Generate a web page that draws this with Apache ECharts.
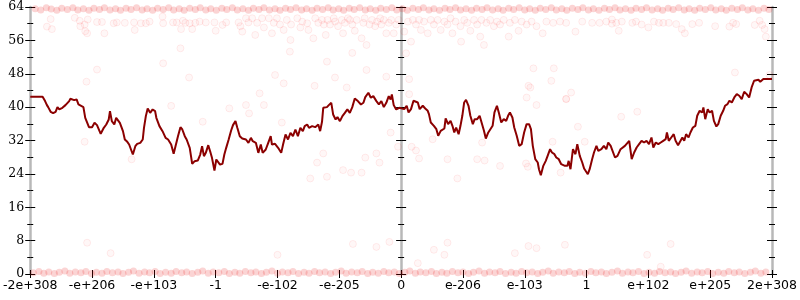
<!DOCTYPE html>
<html>
<head>
<meta charset="utf-8">
<script src="https://cdn.jsdelivr.net/npm/echarts@6/dist/echarts.min.js"></script>
<style>html,body{margin:0;padding:0;background:#fff}#c{width:800px;height:300px}</style>
</head>
<body>
<div id="c"></div>
<script>
// x axis: 12 equal steps of the float ordering, labelled by these ticks
const xTickLabels = ['-2e+308','-e+206','-e+103','-1','-e-102','-e-205','0','e-206','e-103','1','e+102','e+205','2e+308'];
const yTicks = [0, 8, 16, 24, 32, 40, 48, 56, 64];

// rolling trend line [x, y]
const trendPoints = [
[-6.0,42.48],[-5.80,42.48],[-5.76,41.44],[-5.73,40.48],[-5.71,40.0],[-5.67,38.88],[-5.63,38.56],[-5.59,38.88],[-5.56,40.0],[-5.53,39.44],
[-5.48,39.84],[-5.43,40.48],[-5.37,41.44],[-5.35,42.0],[-5.29,41.68],[-5.25,41.84],[-5.22,40.64],[-5.19,40.48],[-5.14,40.0],[-5.11,37.44],
[-5.05,35.2],[-5.00,35.2],[-4.96,36.24],[-4.92,35.68],[-4.89,35.84],[-4.86,33.6],[-4.81,35.04],[-4.77,35.84],[-4.73,37.04],[-4.71,39.04],
[-4.68,36.64],[-4.64,35.84],[-4.61,37.44],[-4.58,37.84],[-4.55,36.24],[-4.50,34.24],[-4.47,32.24],[-4.43,31.68],[-4.40,31.04],[-4.34,28.64],
[-4.30,30.64],[-4.27,31.2],[-4.22,31.44],[-4.18,32.24],[-4.16,35.04],[-4.13,37.84],[-4.10,39.68],[-4.06,38.64],[-4.02,39.44],[-3.98,39.04],
[-3.96,37.44],[-3.91,35.44],[-3.86,34.24],[-3.81,32.64],[-3.77,32.24],[-3.72,31.04],[-3.68,28.8],[-3.65,30.64],[-3.61,33.04],[-3.57,35.2],
[-3.54,34.64],[-3.50,33.04],[-3.47,32.24],[-3.42,30.24],[-3.38,26.4],[-3.34,27.04],[-3.29,27.2],[-3.25,28.64],[-3.22,30.64],[-3.19,28.24],
[-3.16,29.04],[-3.12,30.88],[-3.09,29.44],[-3.06,27.84],[-3.02,24.8],[-2.99,27.44],[-2.96,27.2],[-2.93,26.24],[-2.89,26.4],[-2.86,28.64],
[-2.83,30.24],[-2.79,32.24],[-2.75,34.4],[-2.72,35.68],[-2.68,36.64],[-2.65,35.04],[-2.61,33.04],[-2.57,32.48],[-2.51,32.24],[-2.47,31.44],
[-2.43,32.64],[-2.40,31.84],[-2.35,31.44],[-2.31,29.04],[-2.27,31.04],[-2.24,29.04],[-2.19,29.84],[-2.15,31.44],[-2.11,33.04],[-2.09,31.04],
[-2.04,31.2],[-1.99,30.24],[-1.94,29.04],[-1.91,31.04],[-1.87,33.44],[-1.83,32.24],[-1.79,33.84],[-1.75,33.04],[-1.71,34.64],[-1.67,33.04],
[-1.63,35.04],[-1.59,34.24],[-1.56,35.44],[-1.52,35.84],[-1.49,35.04],[-1.44,35.44],[-1.39,35.2],[-1.34,35.84],[-1.31,34.24],[-1.28,36.48],
[-1.26,39.84],[-1.20,40.0],[-1.17,40.48],[-1.13,41.04],[-1.10,38.24],[-1.06,37.04],[-1.03,37.6],[-0.99,36.64],[-0.95,37.84],[-0.91,38.64],
[-0.87,39.44],[-0.83,38.64],[-0.79,40.0],[-0.75,42.08],[-0.70,41.44],[-0.65,40.64],[-0.61,41.04],[-0.58,42.4],[-0.53,43.44],[-0.49,42.24],
[-0.45,42.64],[-0.40,41.44],[-0.36,40.64],[-0.32,41.44],[-0.28,40.0],[-0.24,41.04],[-0.20,42.64],[-0.17,41.84],[-0.15,43.04],[-0.12,40.48],
[-0.08,39.44],[-0.03,39.84],[0.00,39.92],[0.05,39.52],[0.09,40.32],[0.12,38.72],[0.16,39.52],[0.20,41.52],[0.23,41.92],[0.27,41.12],
[0.30,39.52],[0.35,40.32],[0.39,39.68],[0.43,39.12],[0.45,38.32],[0.48,36.32],[0.53,35.52],[0.57,34.72],[0.60,33.12],[0.64,34.32],
[0.70,34.88],[0.72,37.28],[0.76,35.92],[0.80,36.72],[0.83,35.52],[0.86,33.92],[0.89,35.12],[0.93,33.52],[0.96,35.52],[0.99,37.92],
[1.02,41.12],[1.05,41.76],[1.09,40.32],[1.12,37.92],[1.16,35.92],[1.19,37.12],[1.23,37.12],[1.27,37.92],[1.30,37.52],[1.34,34.32],
[1.37,32.48],[1.41,33.92],[1.44,34.32],[1.48,35.52],[1.51,38.72],[1.55,40.32],[1.58,38.72],[1.62,36.32],[1.66,37.12],[1.70,36.72],
[1.73,37.92],[1.76,38.72],[1.80,37.52],[1.83,35.12],[1.87,33.12],[1.91,30.72],[1.95,31.12],[1.99,33.92],[2.03,35.92],[2.07,35.92],
[2.10,34.72],[2.13,30.72],[2.17,27.52],[2.21,26.72],[2.23,25.12],[2.26,23.68],[2.30,25.92],[2.34,27.12],[2.37,28.32],[2.41,29.92],
[2.44,29.12],[2.48,28.72],[2.51,27.92],[2.55,27.52],[2.59,26.32],[2.65,25.92],[2.69,25.92],[2.71,27.12],[2.74,25.12],[2.78,29.92],
[2.82,28.72],[2.85,31.12],[2.89,28.32],[2.93,26.72],[2.96,25.28],[2.99,25.52],[3.02,23.92],[3.05,25.12],[3.09,27.52],[3.12,29.12],
[3.16,30.72],[3.19,29.52],[3.24,29.92],[3.28,30.72],[3.32,29.92],[3.35,31.52],[3.39,30.72],[3.42,31.12],[3.46,27.92],[3.50,28.32],
[3.55,29.92],[3.58,29.52],[3.62,30.72],[3.65,30.72],[3.69,31.92],[3.73,27.52],[3.77,29.12],[3.81,30.32],[3.85,31.12],[3.89,31.92],
[3.93,31.52],[3.97,31.92],[4.01,31.12],[4.05,32.72],[4.08,30.32],[4.12,31.52],[4.16,31.12],[4.20,31.52],[4.24,31.92],[4.28,32.32],
[4.30,33.92],[4.33,31.92],[4.37,32.72],[4.41,33.52],[4.44,31.92],[4.48,30.88],[4.52,31.92],[4.55,32.72],[4.58,31.92],[4.61,33.52],
[4.65,32.72],[4.68,33.92],[4.72,35.12],[4.76,35.52],[4.79,37.92],[4.83,39.12],[4.87,38.72],[4.89,39.92],[4.92,37.12],[4.96,39.52],
[4.99,38.72],[5.03,39.12],[5.06,36.72],[5.10,35.36],[5.13,35.92],[5.17,37.92],[5.21,39.12],[5.24,40.32],[5.28,40.72],[5.31,41.52],
[5.35,41.12],[5.39,42.32],[5.43,43.12],[5.47,42.72],[5.51,41.92],[5.55,43.68],[5.59,43.12],[5.63,42.32],[5.67,44.72],[5.71,46.32],
[5.74,45.92],[5.78,46.56],[5.81,46.08],[5.86,46.72],[6.0,46.72]
];

// raw samples piled at the bottom (value 0)
const bottomSamples = [
[-5.95,0.3],[-5.86,0.6],[-5.78,0.2],[-5.7,0.5],[-5.61,0.1],[-5.53,0.4],[-5.44,0.7],[-5.36,0.2],[-5.27,0.5],[-5.18,0.3],[-5.1,0.6],[-5.01,0.1],
[-4.93,0.4],[-4.84,0.2],[-4.76,0.6],[-4.67,0.3],[-4.58,0.5],[-4.5,0.1],[-4.41,0.4],[-4.33,0.7],[-4.24,0.2],[-4.15,0.5],[-4.07,0.3],[-3.98,0.6],
[-3.9,0.1],[-3.81,0.4],[-3.72,0.2],[-3.64,0.6],[-3.55,0.3],[-3.47,0.5],[-3.38,0.1],[-3.29,0.4],[-3.21,0.7],[-3.12,0.2],[-3.04,0.5],[-2.95,0.3],
[-2.86,0.6],[-2.78,0.1],[-2.69,0.4],[-2.61,0.2],[-2.52,0.6],[-2.43,0.3],[-2.35,0.5],[-2.26,0.1],[-2.18,0.4],[-2.09,0.7],[-2.0,0.2],[-1.92,0.5],
[-1.83,0.3],[-1.75,0.6],[-1.66,0.1],[-1.57,0.4],[-1.49,0.2],[-1.4,0.6],[-1.32,0.3],[-1.23,0.5],[-1.14,0.1],[-1.06,0.4],[-0.97,0.7],[-0.89,0.2],
[-0.8,0.5],[-0.71,0.3],[-0.63,0.6],[-0.54,0.1],[-0.46,0.4],[-0.37,0.2],[-0.28,0.6],[-0.2,0.3],[-0.11,0.5],[-0.03,0.1],[0.06,0.4],[0.14,0.7],
[0.23,0.2],[0.31,0.5],[0.4,0.3],[0.49,0.6],[0.57,0.1],[0.66,0.4],[0.74,0.2],[0.83,0.6],[0.92,0.3],[1.0,0.5],[1.09,0.1],[1.17,0.4],
[1.26,0.7],[1.35,0.2],[1.43,0.5],[1.52,0.3],[1.6,0.6],[1.69,0.1],[1.78,0.4],[1.86,0.2],[1.95,0.6],[2.03,0.3],[2.12,0.5],[2.21,0.1],
[2.29,0.4],[2.38,0.7],[2.46,0.2],[2.55,0.5],[2.64,0.3],[2.72,0.6],[2.81,0.1],[2.89,0.4],[2.98,0.2],[3.07,0.6],[3.15,0.3],[3.24,0.5],
[3.32,0.1],[3.41,0.4],[3.5,0.7],[3.58,0.2],[3.67,0.5],[3.75,0.3],[3.84,0.6],[3.93,0.1],[4.01,0.4],[4.1,0.2],[4.18,0.6],[4.27,0.3],
[4.36,0.5],[4.44,0.1],[4.53,0.4],[4.61,0.7],[4.7,0.2],[4.79,0.5],[4.87,0.3],[4.96,0.6],[5.04,0.1],[5.13,0.4],[5.22,0.2],[5.3,0.6],
[5.39,0.3],[5.47,0.5],[5.56,0.1],[5.65,0.4],[5.73,0.7],[5.82,0.2],[5.9,0.5]
];

// raw samples piled at the top (value 64)
const topSamples = [
[-5.92,63.6],[-5.83,63.3],[-5.74,63.8],[-5.66,63.5],[-5.57,63.2],[-5.49,63.7],[-5.4,63.4],[-5.31,63.8],[-5.23,63.3],[-5.14,63.6],[-5.05,63.2],[-4.97,63.7],
[-4.88,63.4],[-4.8,63.8],[-4.71,63.3],[-4.62,63.6],[-4.54,63.2],[-4.45,63.7],[-4.37,63.4],[-4.28,63.8],[-4.19,63.3],[-4.11,63.6],[-4.02,63.2],[-3.94,63.7],
[-3.85,63.4],[-3.76,63.8],[-3.68,63.3],[-3.59,63.6],[-3.51,63.2],[-3.42,63.7],[-3.33,63.4],[-3.25,63.8],[-3.16,63.3],[-3.08,63.6],[-2.99,63.2],[-2.9,63.7],
[-2.82,63.4],[-2.73,63.8],[-2.65,63.3],[-2.56,63.6],[-2.47,63.2],[-2.39,63.7],[-2.3,63.4],[-2.22,63.8],[-2.13,63.3],[-2.04,63.6],[-1.96,63.2],[-1.87,63.7],
[-1.79,63.4],[-1.7,63.8],[-1.61,63.3],[-1.53,63.6],[-1.44,63.2],[-1.36,63.7],[-1.27,63.4],[-1.18,63.8],[-1.1,63.3],[-1.01,63.6],[-0.93,63.2],[-0.84,63.7],
[-0.76,63.4],[-0.67,63.8],[-0.58,63.3],[-0.5,63.6],[-0.41,63.2],[-0.33,63.7],[-0.24,63.4],[-0.15,63.8],[-0.07,63.3],[0.02,63.6],[0.1,63.2],[0.19,63.7],
[0.28,63.4],[0.36,63.8],[0.45,63.3],[0.53,63.6],[0.62,63.2],[0.71,63.7],[0.79,63.4],[0.88,63.8],[0.96,63.3],[1.05,63.6],[1.14,63.2],[1.22,63.7],
[1.31,63.4],[1.39,63.8],[1.48,63.3],[1.57,63.6],[1.65,63.2],[1.74,63.7],[1.82,63.4],[1.91,63.8],[2.0,63.3],[2.08,63.6],[2.17,63.2],[2.25,63.7],
[2.34,63.4],[2.43,63.8],[2.51,63.3],[2.6,63.6],[2.68,63.2],[2.77,63.7],[2.86,63.4],[2.94,63.8],[3.03,63.3],[3.11,63.6],[3.2,63.2],[3.29,63.7],
[3.37,63.4],[3.46,63.8],[3.54,63.3],[3.63,63.6],[3.72,63.2],[3.8,63.7],[3.89,63.4],[3.97,63.8],[4.06,63.3],[4.15,63.6],[4.23,63.2],[4.32,63.7],
[4.4,63.4],[4.49,63.8],[4.58,63.3],[4.66,63.6],[4.75,63.2],[4.83,63.7],[4.92,63.4],[5.01,63.8],[5.09,63.3],[5.18,63.6],[5.26,63.2],[5.35,63.7],
[5.44,63.4],[5.52,63.8],[5.61,63.3],[5.69,63.6],[5.78,63.2],[5.87,63.7],[5.95,63.4]
];

// scattered individual samples
const looseSamples = [
[-5.67,61.1],[-5.73,59.3],[-5.65,58.7],[-5.28,61.4],[-5.20,60.7],[-5.19,59.4],[-5.12,59.8],[-5.11,58.2],[-5.08,57.7],[-5.07,61.0],
[-4.92,60.4],[-4.84,60.4],[-4.80,57.7],[-4.65,60.1],[-4.60,60.3],[-4.47,60.2],[-4.32,60.3],[-4.31,58.5],[-4.21,60.1],[-4.13,60.1],
[-4.07,60.5],[-3.86,61.7],[-3.85,60.1],[-3.69,60.3],[-3.63,60.3],[-3.56,58.7],[-3.53,60.7],[-3.49,60.2],[-3.42,60.1],[-3.38,58.7],
[-3.33,60.2],[-3.26,60.5],[-3.57,54.1],[-3.85,50.5],[-4.92,49.0],[-5.09,46.1],[-3.43,47.1],
[-3.16,60.3],[-3.02,60.3],[-3.00,58.3],[-2.89,59.7],[-2.83,60.3],[-2.63,60.3],[-2.60,59.4],[-2.57,58.1],[-2.51,61.3],[-2.47,60.3],
[-2.41,61.3],[-2.36,57.3],[-2.33,60.2],[-2.25,61.3],[-2.22,59.1],[-2.14,61.3],[-2.09,57.7],[-2.06,60.2],[-2.01,61.3],[-1.96,59.8],
[-1.90,58.5],[-1.85,60.9],[-1.79,56.1],[-1.78,59.8],[-1.68,61.3],[-1.63,59.1],[-1.60,60.5],[-1.52,60.1],[-1.50,58.5],[-1.42,56.5],
[-1.39,61.3],[-1.34,60.2],[-1.28,60.9],[-1.25,59.8],[-1.22,57.3],[-1.19,60.9],[-1.15,59.8],[-1.09,61.3],[-1.07,60.5],[-1.02,59.4],
[-0.96,60.9],[-0.94,57.7],[-0.91,60.2],[-0.86,61.3],[-0.83,60.9],[-0.79,59.8],[-0.75,58.3],[-0.72,60.9],[-0.64,56.5],[-0.61,60.2],
[-0.59,61.3],[-0.56,54.9],[-0.51,59.8],[-0.47,60.9],[-0.42,59.4],[-0.39,60.5],[-0.34,61.3],[-0.32,59.8],[-0.28,60.9],[-0.24,57.7],
[-0.20,60.2],[-0.16,60.9],[-0.12,57.7],[-0.08,59.8],[-0.04,60.9],
[-1.80,53.3],[-1.20,50.9],[-0.79,53.0],[-2.04,47.7],[-1.90,45.7],[-1.07,47.1],[-0.88,44.7],[-0.56,48.9],[-0.24,47.3],[-2.29,43.3],
[0.11,60.5],[0.19,60.9],[0.24,59.8],[0.29,60.9],[0.32,58.5],[0.37,60.5],[0.43,57.7],[0.48,60.9],[0.53,59.8],[0.59,60.9],
[0.64,58.5],[0.70,60.5],[0.75,59.8],[0.80,61.3],[0.83,57.7],[0.88,60.5],[0.96,59.4],[0.97,55.7],[1.02,60.9],[1.07,60.2],
[1.12,58.3],[1.18,60.9],[1.23,59.8],[1.28,56.9],[1.30,60.9],[1.34,54.9],[1.38,60.2],[1.44,60.9],[1.50,59.4],[1.55,60.5],
[1.60,59.8],[1.66,60.9],[1.74,56.9],[1.76,60.2],[1.84,60.9],[1.90,58.3],[1.95,60.5],[2.03,59.8],[2.11,60.5],[2.19,59.4],
[2.29,57.7],[2.35,60.5],[2.46,60.2],[2.57,60.5],[2.67,60.2],[2.82,58.1],[2.93,60.5],[3.09,60.2],
[0.05,58.1],[0.08,52.9],[0.16,55.7],
[2.14,49.3],[2.47,49.3],[2.43,46.3],[0.13,46.7],[2.09,44.7],[2.03,42.3],[2.75,43.5],[2.67,42.0],
[3.21,60.2],[3.32,60.5],[3.41,61.0],[3.41,60.0],[3.48,60.2],[3.52,58.3],[3.57,60.5],[3.74,60.2],[3.80,60.5],[3.89,59.8],
[4.00,59.1],[4.09,60.5],[4.17,60.2],[4.24,60.2],[4.33,60.2],[4.45,59.9],[4.54,58.7],[4.59,57.7],[4.71,59.9],[4.82,60.2],
[5.08,59.4],[5.31,59.3],[5.37,60.2],[5.42,59.9],[5.72,59.7],[5.80,60.7],[5.84,59.7],[5.88,58.7],[5.90,56.9],[5.40,48.3],
[-5.12,31.7],[-4.36,27.5],[-3.72,40.3],[-3.21,36.5],[-2.78,39.7],[-2.51,40.5],[-2.46,38.5],[-2.22,40.5],
[-1.93,36.3],[-1.40,45.1],[-1.26,28.9],[-1.36,26.7],[-0.81,24.3],[-0.64,24.3],[-0.94,24.9],[-1.20,23.3],[-1.47,22.9],[-0.35,26.7],
[-0.58,27.9],[-0.40,28.9],[-0.17,33.9],[-0.05,30.5],[0.17,30.5],[0.24,29.6],[0.29,27.7],[0.51,32.3],[0.75,27.5],[0.91,22.9],
[1.23,27.5],[1.60,25.9],[2.06,45.1],[2.19,40.5],[2.02,26.5],[2.05,25.7],[2.67,41.9],[3.56,37.7],[3.82,38.9],[2.86,35.3],
[2.97,31.7],[2.45,31.7],[2.58,24.3],[0.13,43.1],[1.31,31.5],[1.35,27.2],[5.96,47.7],
[-5.08,7.5],[-4.70,5.0],[-2.0,4.6],[-0.78,7.2],[-0.40,6.5],[-0.19,7.7],[0.27,2.6],[0.53,5.8],[0.70,4.6],[0.75,7.5],
[1.84,5.0],[2.06,6.7],[2.19,6.2],[2.65,7.0],[3.98,4.6],[4.36,7.2],[4.20,1.75]
];

const chart = echarts.init(document.getElementById('c'), null, {renderer: 'canvas'});

const tickLine = {color: '#000', width: 1};
const xCommon = {
  type: 'value', min: -6, max: 6, interval: 1, position: 'bottom',
  axisLine: {show: false, onZero: false}, splitLine: {show: false}
};
const yCommon = {
  type: 'value', min: 0, max: 64, interval: 8, splitLine: {show: false}
};
const grayLine = {show: true, lineStyle: {color: '#b8b8b8', width: 2.5}};

const bandStyle = {color: 'rgba(235,10,10,0.22)', borderWidth: 0};
const looseStyle = {color: 'rgba(255,40,40,0.045)', borderColor: 'rgba(255,0,0,0.09)', borderWidth: 1};

const option = {
  animation: false,
  backgroundColor: '#fff',
  grid: {left: 28, right: 25, top: 7, bottom: 26, containLabel: false},
  xAxis: [
    Object.assign({}, xCommon, {
      axisTick: {show: true, inside: false, length: 4, lineStyle: tickLine},
      axisLabel: {
        show: true, margin: 5, color: '#000', fontSize: 12.5, fontFamily: 'DejaVu Sans',
        formatter: v => xTickLabels[Math.round(v) + 6]
      }
    }),
    Object.assign({}, xCommon, {
      axisTick: {show: true, inside: true, length: 4, lineStyle: tickLine},
      axisLabel: {show: false}
    })
  ],
  yAxis: [
    Object.assign({}, yCommon, {
      position: 'left', axisLine: Object.assign({onZero: false}, grayLine),
      axisTick: {show: true, inside: false, length: 5, lineStyle: tickLine},
      minorTick: {show: true, splitNumber: 2, length: 3, lineStyle: tickLine},
      axisLabel: {show: true, margin: 6, color: '#000', fontSize: 12.5, fontFamily: 'DejaVu Serif',
        formatter: v => String(yTicks[Math.round(v / 8)])}
    }),
    Object.assign({}, yCommon, {
      position: 'left', axisLine: {show: false, onZero: false},
      axisTick: {show: true, inside: true, length: 5, lineStyle: tickLine},
      minorTick: {show: true, splitNumber: 2, length: 3, lineStyle: tickLine},
      axisLabel: {show: false}
    }),
    Object.assign({}, yCommon, {
      position: 'left', axisLine: Object.assign({onZero: true, onZeroAxisIndex: 0}, grayLine),
      axisTick: {show: true, inside: false, length: 5, lineStyle: tickLine},
      minorTick: {show: true, splitNumber: 2, length: 3, lineStyle: tickLine},
      axisLabel: {show: false}
    }),
    Object.assign({}, yCommon, {
      position: 'left', axisLine: {show: false, onZero: true, onZeroAxisIndex: 0},
      axisTick: {show: true, inside: true, length: 5, lineStyle: tickLine},
      minorTick: {show: true, splitNumber: 2, length: 3, lineStyle: tickLine},
      axisLabel: {show: false}
    }),
    Object.assign({}, yCommon, {
      position: 'right', axisLine: Object.assign({onZero: false}, grayLine),
      axisTick: {show: true, inside: false, length: 5, lineStyle: tickLine},
      minorTick: {show: true, splitNumber: 2, length: 3, lineStyle: tickLine},
      axisLabel: {show: false}
    }),
    Object.assign({}, yCommon, {
      position: 'right', axisLine: {show: false, onZero: false},
      axisTick: {show: true, inside: true, length: 5, lineStyle: tickLine},
      minorTick: {show: true, splitNumber: 2, length: 3, lineStyle: tickLine},
      axisLabel: {show: false}
    })
  ],
  series: [
    {
      type: 'scatter', xAxisIndex: 0, yAxisIndex: 0, data: bottomSamples, symbol: 'circle', symbolSize: 7,
      clip: false, silent: true, z: 1, itemStyle: bandStyle
    },
    {
      type: 'scatter', xAxisIndex: 0, yAxisIndex: 0, data: topSamples, symbol: 'circle', symbolSize: 7,
      clip: false, silent: true, z: 1, itemStyle: bandStyle
    },
    {
      type: 'scatter', xAxisIndex: 0, yAxisIndex: 0, data: looseSamples, symbol: 'circle', symbolSize: 7,
      clip: false, silent: true, z: 1, itemStyle: looseStyle
    },
    {
      type: 'line', xAxisIndex: 0, yAxisIndex: 0, data: trendPoints, showSymbol: false, symbol: 'none',
      silent: true, z: 5,
      lineStyle: {color: '#8b0000', width: 2}
    }
  ]
};
chart.setOption(option);
</script>
</body>
</html>
